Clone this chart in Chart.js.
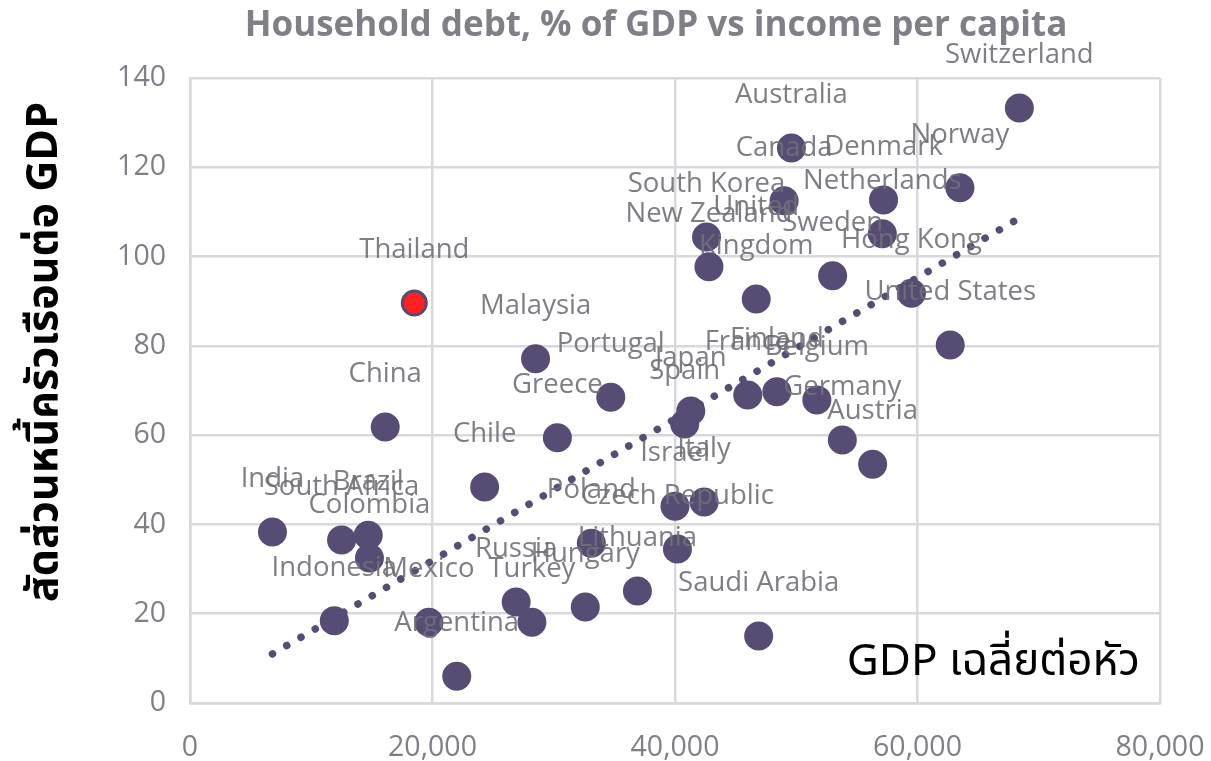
<!DOCTYPE html>
<html>
<head>
<meta charset="utf-8">
<script src="https://cdn.jsdelivr.net/npm/chart.js@4.4.1/dist/chart.umd.min.js"></script>
<style>
  html, body { margin: 0; padding: 0; background: #fff; }
  #wrap { width: 1211px; height: 761px; }
</style>
</head>
<body>
<div id="wrap"><canvas id="debtChart"></canvas></div>
<script>
'use strict';

const countries = [
  'Switzerland', 'Australia', 'Canada', 'Denmark', 'Norway', 'Netherlands',
  'South Korea', 'New Zealand', 'United\nKingdom', 'Sweden', 'Hong Kong', 'United States',
  'Malaysia', 'Portugal', 'Greece', 'China', 'Chile',
  'Japan', 'Spain', 'France', 'Finland', 'Belgium', 'Germany', 'Austria',
  'Israel', 'Italy', 'Czech Republic', 'Poland', 'Lithuania', 'Russia', 'Hungary',
  'Saudi Arabia', 'India', 'South Africa', 'Brazil', 'Colombia', 'Indonesia',
  'Mexico', 'Turkey', 'Argentina'
];
const gdpPerCapita = [
  68400, 49600, 49000, 57200, 63500, 57100,
  42600, 42800, 46700, 53000, 59500, 62700,
  28500, 34700, 30300, 16100, 24300,
  41300, 40800, 46000, 48400, 51700, 53800, 56300,
  40000, 42400, 40200, 33100, 36900, 26900, 32600,
  46900, 6800, 12500, 14700, 14800, 11900,
  19700, 28200, 22000
];
const debtToGdp = [
  133.3, 124.3, 112.5, 112.7, 115.4, 105.1,
  104.4, 97.7, 90.5, 95.7, 91.8, 80.2,
  77.1, 68.5, 59.4, 61.8, 48.4,
  65.4, 62.5, 69.0, 69.7, 67.9, 58.9, 53.5,
  44.1, 45.0, 34.5, 35.8, 25.1, 22.6, 21.5,
  15.0, 38.3, 36.5, 37.6, 32.5, 18.4,
  18.1, 18.1, 6.0
];

const thaiName = 'Thailand';
const thaiGdp  = 18500;
const thaiDebt = 89.6;

// trendline ends
const trendX = [6800, 68400];
const trendY = [11.0, 108.6];

const xTicks = [0, 20000, 40000, 60000, 80000];
const yTicks = [0, 20, 40, 60, 80, 100, 120, 140];

const FONT = "'Open Sans', 'Noto Sans', sans-serif";
const THAI_FONT = "'Noto Sans Thai', 'Noto Sans', 'DejaVu Sans', sans-serif";

const labelPlugin = {
  id: 'pointLabels',
  afterDatasetsDraw(chart) {
    const { ctx } = chart;
    ctx.save();
    ctx.font = `27.5px ${FONT}`;
    ctx.fillStyle = 'rgba(112,112,120,0.9)';
    ctx.textAlign = 'center';
    ctx.textBaseline = 'middle';
    chart.data.datasets.forEach((ds, i) => {
      if (!ds.names) return;
      const meta = chart.getDatasetMeta(i);
      meta.data.forEach((pt, j) => {
        const lines = ds.names[j].split('\n').reverse();
        lines.forEach((line, k) => ctx.fillText(line, pt.x, pt.y - 53 - k * 39));
      });
    });
    ctx.restore();
  }
};

const textPlugin = {
  id: 'extraText',
  afterDraw(chart) {
    const { ctx, chartArea } = chart;
    ctx.save();
    ctx.font = `bold 35px ${FONT}`;
    ctx.fillStyle = '#7f7f87';
    ctx.textAlign = 'center';
    ctx.textBaseline = 'middle';
    ctx.fillText('Household debt, % of GDP vs income per capita', 656, 26);

    ctx.font = `44px ${THAI_FONT}`;
    ctx.fillStyle = '#000';
    ctx.textAlign = 'right';
    ctx.fillText('GDP เฉลี่ยต่อหัว', chartArea.right - 20, 666);

    ctx.translate(48, 352);
    ctx.rotate(-Math.PI / 2);
    ctx.textAlign = 'center';
    ctx.font = `bold 43px ${THAI_FONT}`;
    ctx.fillText('สัดส่วนหนี้ครัวเรือนต่อ GDP', 0, 0);
    ctx.restore();
  }
};

new Chart(document.getElementById('debtChart'), {
  type: 'scatter',
  data: {
    datasets: [
      {
        names: [thaiName],
        data: [{ x: thaiGdp, y: thaiDebt }],
        backgroundColor: '#ff2121',
        borderColor: '#574c74',
        borderWidth: 3,
        pointRadius: 12,
        order: 1
      },
      {
        names: countries,
        data: gdpPerCapita.map((g, i) => ({ x: g, y: debtToGdp[i] })),
        backgroundColor: '#574c74',
        borderWidth: 0,
        pointRadius: 14.5,
        order: 2
      },
      {
        type: 'line',
        data: trendX.map((x, i) => ({ x, y: trendY[i] })),
        borderColor: '#574c74',
        borderWidth: 7.5,
        borderDash: [0.1, 16.4],
        borderCapStyle: 'round',
        pointRadius: 0,
        fill: false,
        order: 3
      }
    ]
  },
  options: {
    responsive: true,
    maintainAspectRatio: false,
    animation: false,
    layout: { padding: { top: 78, right: 51, left: 0, bottom: 0 } },
    plugins: {
      legend: { display: false },
      title: { display: false },
      tooltip: { enabled: false }
    },
    scales: {
      x: {
        type: 'linear',
        min: xTicks[0],
        max: xTicks[xTicks.length - 1],
        afterBuildTicks: s => { s.ticks = xTicks.map(v => ({ value: v })); },
        afterFit: s => { s.height = 58; s.paddingLeft = 0; s.paddingRight = 0; },
        ticks: {
          color: '#7f7f87',
          font: { family: FONT, size: 28.5 },
          padding: 28,
          maxRotation: 0,
          callback: v => v.toLocaleString('en-US')
        },
        grid: { color: '#d9d9dd', lineWidth: 2.5, drawTicks: false },
        border: { color: '#d9d9dd', width: 2.5 }
      },
      y: {
        type: 'linear',
        min: yTicks[0],
        max: yTicks[yTicks.length - 1],
        afterBuildTicks: s => { s.ticks = yTicks.map(v => ({ value: v })); },
        afterFit: s => { s.width = 190; s.paddingTop = 0; s.paddingBottom = 0; },
        ticks: {
          color: '#7f7f87',
          font: { family: FONT, size: 28.5 },
          padding: 24
        },
        grid: { color: '#d9d9dd', lineWidth: 2.5, drawTicks: false },
        border: { color: '#d9d9dd', width: 2.5 }
      }
    }
  },
  plugins: [labelPlugin, textPlugin]
});
</script>
</body>
</html>
